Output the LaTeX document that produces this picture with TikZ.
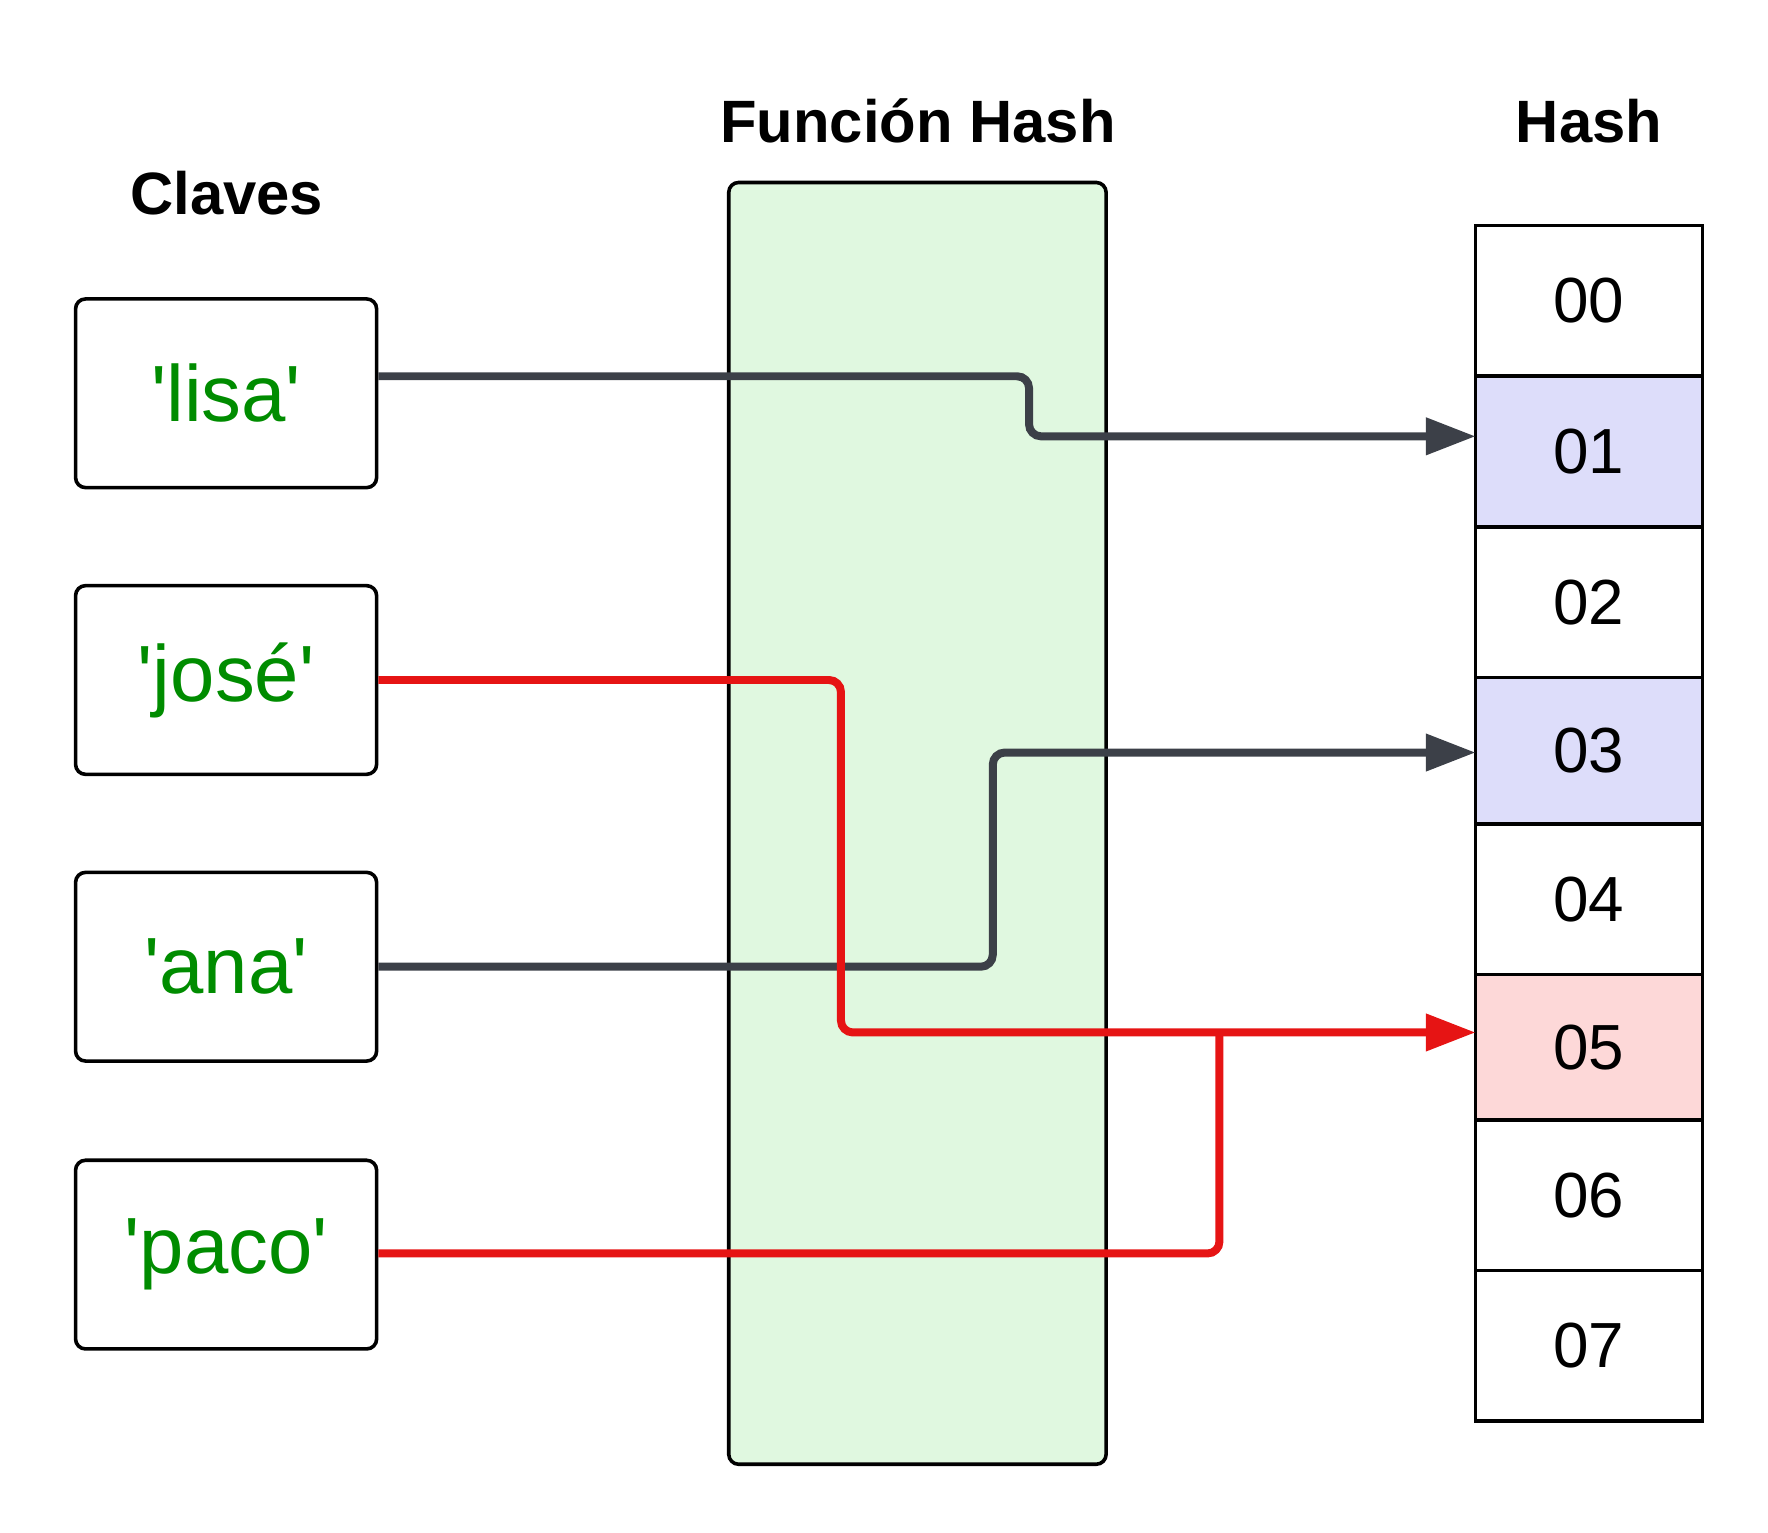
\documentclass[tikz,border=0pt]{standalone}
\usepackage{fontspec}
\setmainfont{Liberation Sans}
\usetikzlibrary{arrows.meta}
\definecolor{keygreen}{RGB}{0,140,0}
\definecolor{fgreen}{RGB}{224,248,224}
\definecolor{cblue}{RGB}{221,221,250}
\definecolor{cred}{RGB}{253,216,216}
\definecolor{dgray}{RGB}{60,64,72}
\definecolor{lred}{RGB}{230,20,20}
\newcommand{\sq}{\textquotesingle}
\tikzset{
  keybox/.style={draw,line width=0.9pt,rounded corners=2.5pt,minimum width=7.5cm*0.354,minimum height=4.7cm*0.354,inner sep=0pt,text=keygreen,font=\fontsize{20}{24}\selectfont},
  cell/.style={draw,line width=0.9pt,minimum width=2cm,inner sep=0pt,font=\fontsize{16}{20}\selectfont},
  title/.style={font=\fontsize{15}{18}\selectfont\bfseries},
  gline/.style={draw=dgray,line width=2pt,rounded corners=3pt},
  rline/.style={draw=lred,line width=2pt,rounded corners=3pt},
  tip/.style={-{Triangle[length=12.5pt,width=9pt]}}
}
\begin{document}
\begin{tikzpicture}[x=0.01cm,y=-0.01cm]
\useasboundingbox (0,0) rectangle (1560,1352);
\node[title] (tc) at (200,170) {Claves};
\node[title] (tf) at (810,107) {Función Hash};
\node[title] (th) at (1402,107) {Hash};
\draw[fill=fgreen,line width=0.9pt,rounded corners=2.5pt] (643,161) rectangle (976,1292);
\node[cell,minimum height=1.33cm] (c0) at (1402,265.5) {00};
\node[cell,minimum height=1.33cm,fill=cblue] (c1) at (1402,398.5) {01};
\node[cell,minimum height=1.33cm] (c2) at (1402,531.5) {02};
\node[cell,minimum height=1.29cm,fill=cblue] (c3) at (1402,662.5) {03};
\node[cell,minimum height=1.33cm] (c4) at (1402,793.5) {04};
\node[cell,minimum height=1.28cm,fill=cred] (c5) at (1402,924) {05};
\node[cell,minimum height=1.33cm] (c6) at (1402,1054.5) {06};
\node[cell,minimum height=1.33cm] (c7) at (1402,1187.5) {07};
\coordinate (e1) at (1302,385);
\coordinate (e3) at (1302,664);
\coordinate (e5) at (1302,911);
\coordinate (m5) at (1076,911);
\node[keybox] (k1) at (199.5,347) {\sq lisa\sq};
\node[keybox] (k2) at (199.5,600) {\sq josé\sq};
\node[keybox] (k3) at (199.5,853) {\sq ana\sq};
\node[keybox] (k4) at (199.5,1107) {\sq paco\sq};
\draw[gline,tip] (k1.east |- 0,332) -- (908,332) -- (908,385) -- (e1);
\draw[gline,tip] (k3.east) -- (876,853) -- (876,664) -- (e3);
\draw[rline,tip] (k2.east) -- (742,600) -- (742,911) -- (e5);
\draw[rline] (k4.east |- 0,1106) -- (1076,1106) -- (m5);
\end{tikzpicture}
\end{document}
